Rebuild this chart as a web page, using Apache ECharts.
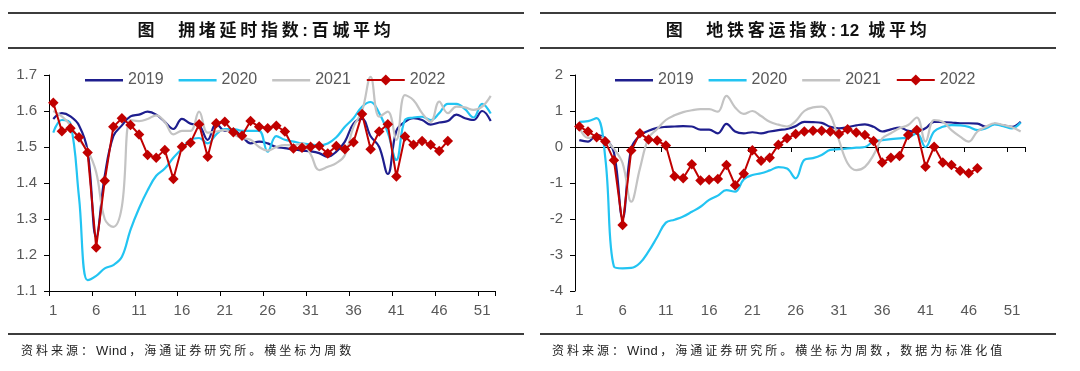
<!DOCTYPE html>
<html>
<head>
<meta charset="utf-8">
<script src="https://cdn.jsdelivr.net/npm/echarts@6/dist/echarts.min.js"></script>
<style>
html,body{margin:0;padding:0;background:#fff;}
#wrap{position:relative;width:1080px;height:371px;overflow:hidden;background:#fff;}
#chart{position:absolute;left:0;top:0;width:1080px;height:371px;}
.rule{position:absolute;height:2px;background:#3c3c3c;}
.title{position:absolute;top:20px;height:22px;line-height:22px;font-family:"Liberation Sans","Noto Sans CJK SC",sans-serif;font-weight:bold;font-size:17px;letter-spacing:3.7px;white-space:nowrap;color:#111;text-align:center;}
.src{position:absolute;top:342px;height:17px;line-height:17px;font-family:"Liberation Sans","Noto Sans CJK SC",sans-serif;font-size:12px;letter-spacing:3px;white-space:nowrap;color:#222;}
.latin{letter-spacing:0.4px;margin-right:2px;font-size:13px;}
</style>
</head>
<body>
<div id="wrap">
  <div id="chart"></div>
  <div class="rule" style="left:8px;width:516px;top:12px;"></div>
  <div class="rule" style="left:8px;width:516px;top:47px;"></div>
  <div class="rule" style="left:540px;width:516px;top:12px;"></div>
  <div class="rule" style="left:540px;width:516px;top:47px;"></div>
  <div class="title" style="left:8px;width:516px;"><span>图</span><span style="margin-left:20px">拥堵延时指数:百城平均</span></div>
  <div class="title" style="left:540px;width:516px;"><span>图</span><span style="margin-left:20px">地铁客运指数:<span style="letter-spacing:0.5px">12</span> 城平均</span></div>
  <div class="rule" style="left:8px;width:516px;top:333px;"></div>
  <div class="rule" style="left:540px;width:516px;top:333px;"></div>
  <div class="src" style="left:21px;">资料来源：<span class="latin">Wind</span>，海通证券研究所。横坐标为周数</div>
  <div class="src" style="left:552px;">资料来源：<span class="latin">Wind</span>，海通证券研究所。横坐标为周数，数据为标准化值</div>
</div>
<script>
// Week categories (x axis)
const weeks = ['1','2','3','4','5','6','7','8','9','10','11','12','13','14','15','16','17','18','19','20',
  '21','22','23','24','25','26','27','28','29','30','31','32','33','34','35','36','37','38','39','40',
  '41','42','43','44','45','46','47','48','49','50','51','52'];
const seriesNames = ['2019','2020','2021','2022'];

// Left panel: congestion delay index, average of 100 cities
const congestion2019 = [1.578,1.594,1.585,1.56,1.49,1.25,1.42,1.53,1.56,1.585,1.59,1.598,1.59,1.57,1.55,1.578,1.565,1.56,1.52,1.565,
  1.545,1.545,1.53,1.51,1.515,1.51,1.50,1.497,1.493,1.49,1.488,1.483,1.473,1.487,1.515,1.565,1.578,1.53,1.50,1.425,
  1.545,1.57,1.58,1.575,1.562,1.568,1.572,1.59,1.58,1.575,1.60,1.572];
const congestion2020 = [1.54,1.575,1.565,1.36,1.13,1.142,1.163,1.172,1.195,1.27,1.33,1.38,1.42,1.44,1.47,1.495,1.52,1.525,1.51,1.535,
  1.55,1.55,1.545,1.545,1.545,1.487,1.53,1.52,1.515,1.51,1.507,1.505,1.51,1.527,1.556,1.58,1.612,1.625,1.594,1.54,
  1.464,1.575,1.582,1.584,1.575,1.594,1.62,1.62,1.605,1.582,1.62,1.593];
const congestion2021 = [1.60,1.585,1.56,1.52,1.49,1.43,1.30,1.278,1.335,1.575,1.572,1.578,1.588,1.57,1.535,1.545,1.545,1.598,1.54,1.543,
  1.547,1.535,1.525,1.52,1.50,1.49,1.50,1.505,1.505,1.51,1.48,1.436,1.445,1.455,1.478,1.556,1.60,1.695,1.584,1.598,
  1.52,1.644,1.63,1.594,1.57,1.626,1.594,1.612,1.61,1.603,1.612,1.642];
const congestion2022 = [1.623,1.544,1.552,1.527,1.485,1.221,1.406,1.556,1.580,1.561,1.535,1.478,1.470,1.492,1.411,1.501,1.512,1.563,1.473,1.566,
  1.570,1.541,1.531,1.572,1.556,1.552,1.559,1.543,1.496,1.498,1.501,1.503,1.482,1.503,1.494,1.513,1.592,1.494,1.543,1.563,
  1.418,1.529,1.506,1.517,1.506,1.489,1.517];

// Right panel: metro passenger index, average of 12 cities (standardised)
const metro2019 = [0.19,0.15,0.33,0.24,-0.15,-1.98,-0.04,0.32,0.45,0.53,0.56,0.57,0.58,0.57,0.48,0.48,0.38,0.64,0.43,0.38,
  0.41,0.38,0.43,0.47,0.50,0.58,0.70,0.69,0.67,0.56,0.52,0.55,0.60,0.63,0.56,0.43,0.49,0.54,0.45,0.43,
  0.52,0.70,0.69,0.68,0.66,0.66,0.65,0.56,0.64,0.60,0.56,0.70];
const metro2020 = [0.70,0.72,0.80,-0.30,-3.32,-3.37,-3.36,-3.22,-2.90,-2.50,-2.10,-2.02,-1.93,-1.80,-1.66,-1.47,-1.35,-1.20,-1.24,-0.90,
  -0.78,-0.73,-0.65,-0.56,-0.60,-0.87,-0.36,-0.31,-0.22,-0.08,-0.06,-0.04,-0.02,0.00,0.15,0.19,0.22,0.24,0.26,0.38,
  0.00,0.43,0.56,0.61,0.60,0.56,0.47,0.52,0.63,0.58,0.52,0.68];
const metro2021 = [0.55,0.25,0.30,0.20,-0.05,-0.45,-1.52,-0.60,0.25,0.50,0.75,0.88,0.97,1.02,1.05,1.05,0.98,1.42,1.10,0.92,
  1.00,0.86,0.70,0.62,0.57,0.72,1.00,1.10,1.12,0.89,0.19,-0.45,-0.64,-0.55,-0.22,0.24,0.38,0.52,0.61,0.82,
  0.15,0.75,0.70,0.47,0.29,0.15,0.43,0.56,0.66,0.61,0.55,0.43];
const metro2022 = [0.57,0.43,0.27,0.15,-0.37,-2.17,-0.10,0.38,0.21,0.18,0.04,-0.81,-0.87,-0.48,-0.93,-0.91,-0.89,-0.50,-1.06,-0.74,
  -0.09,-0.38,-0.30,0.06,0.24,0.36,0.43,0.45,0.45,0.43,0.36,0.49,0.40,0.33,0.17,-0.43,-0.30,-0.25,0.33,0.47,
  -0.55,0.01,-0.43,-0.50,-0.66,-0.73,-0.59];

const colors = {'2019':'#1E1E8E','2020':'#22C4F2','2021':'#C3C3C3','2022':'#C00000'};
const labelFont = 'Liberation Sans, Arial, sans-serif';
const axisLabelStyle = {fontSize:15,color:'#595959',fontFamily:labelFont};
// thin horizontal bar legend icon (bounding box 38x14 kept by corner points)
const lineIcon = 'path://M0,0L0,0M38,14L38,14M0,6L38,6L38,8.5L0,8.5Z';

function smoothLine(name, data, xi, yi){
  return {name:name,type:'line',xAxisIndex:xi,yAxisIndex:yi,data:data,smooth:0.4,symbol:'none',
    lineStyle:{color:colors[name],width:2.2},itemStyle:{color:colors[name]},z:2};
}
function markerLine(name, data, xi, yi){
  return {name:name,type:'line',xAxisIndex:xi,yAxisIndex:yi,data:data,smooth:false,symbol:'diamond',symbolSize:10.5,
    showAllSymbol:true,lineStyle:{color:colors[name],width:2},itemStyle:{color:colors[name]},z:3};
}
function catAxis(grid, extra){
  return Object.assign({type:'category',gridIndex:grid,data:weeks,boundaryGap:true,
    axisLine:{show:true,onZero:false,lineStyle:{color:'#000',width:1}},
    axisTick:{show:true,interval:4,length:5,lineStyle:{color:'#000'}},
    axisLabel:Object.assign({interval:4,margin:12},axisLabelStyle),
    splitLine:{show:false}}, extra||{});
}
function legendAt(left){
  return {left:left,top:67,itemWidth:38,itemHeight:14,itemGap:15,
    itemStyle:{borderWidth:0},
    textStyle:{fontSize:16,color:'#595959',fontFamily:labelFont},
    data:[
      {name:seriesNames[0],icon:lineIcon},
      {name:seriesNames[1],icon:lineIcon},
      {name:seriesNames[2],icon:lineIcon},
      {name:seriesNames[3]}
    ]};
}

const chart = echarts.init(document.getElementById('chart'),null,{renderer:'canvas'});
chart.setOption({
  animation:false,
  backgroundColor:'transparent',
  legend:[legendAt(80), legendAt(610)],
  grid:[
    {left:49,top:75,width:446,height:216},
    {left:575,top:75,width:450,height:216},
    {left:575,top:75,width:450,height:216}
  ],
  xAxis:[
    catAxis(0),
    catAxis(1,{axisLine:{show:true,onZero:true,lineStyle:{color:'#000',width:1}},axisLabel:{show:false}}),
    catAxis(2,{axisLine:{show:false,onZero:false},axisTick:{show:false}})
  ],
  yAxis:[
    {type:'value',gridIndex:0,min:1.1,max:1.7,interval:0.1,
      axisLine:{show:true,lineStyle:{color:'#000',width:1}},axisTick:{show:true,length:5,lineStyle:{color:'#000'}},
      splitLine:{show:false},axisLabel:Object.assign({margin:12,formatter:v=>v.toFixed(1)},axisLabelStyle)},
    {type:'value',gridIndex:1,min:-4,max:2,interval:1,
      axisLine:{show:true,lineStyle:{color:'#000',width:1}},axisTick:{show:true,length:5,lineStyle:{color:'#000'}},
      splitLine:{show:false},axisLabel:Object.assign({margin:12},axisLabelStyle)},
    {type:'value',gridIndex:2,min:-4,max:2,interval:1,show:false}
  ],
  series:[
    smoothLine('2019',congestion2019,0,0),
    smoothLine('2020',congestion2020,0,0),
    smoothLine('2021',congestion2021,0,0),
    markerLine('2022',congestion2022,0,0),
    smoothLine('2019',metro2019,1,1),
    smoothLine('2020',metro2020,1,1),
    smoothLine('2021',metro2021,1,1),
    markerLine('2022',metro2022,1,1)
  ]
});
</script>
</body>
</html>
